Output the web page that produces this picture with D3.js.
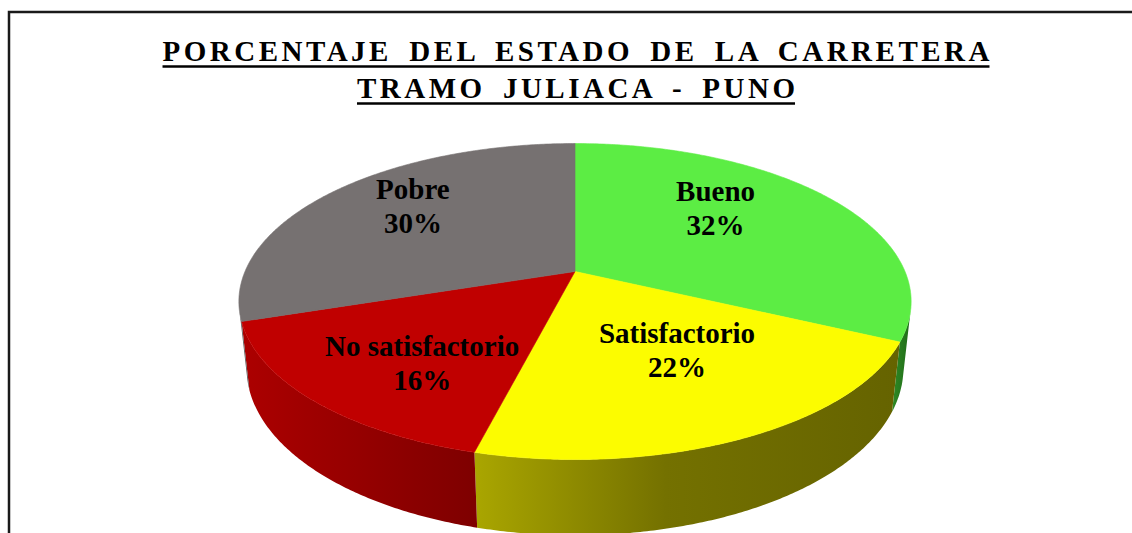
<!DOCTYPE html>
<html>
<head>
<meta charset="utf-8">
<script src="https://cdn.jsdelivr.net/npm/d3@7"></script>
<style>
  html, body { margin: 0; padding: 0; background: #fff; overflow: hidden; }
  svg { display: block; }
</style>
</head>
<body>
<svg id="chart" width="1132" height="533"></svg>
<script>
// ---------- DATA ----------
const titleLines = ["PORCENTAJE DEL ESTADO DE LA CARRETERA", "TRAMO JULIACA - PUNO"];
const categories = ["Bueno", "Satisfactorio", "No satisfactorio", "Pobre"];
const values = [32, 22, 16, 30];
const percentLabels = ["32%", "22%", "16%", "30%"];

// ---------- STYLE / LAYOUT ----------
const topColors = ["#5ced44", "#fcfc00", "#c00000", "#767171"];
const wallStops = [
  [[0, "#2f8a24"], [1, "#1f6a18"]],
  [[0, "#aaa600"], [0.45, "#747100"], [1, "#656300"]],
  [[0, "#ac0000"], [1, "#7e0000"]],
  [[0, "#6a6666"], [1, "#555252"]]
];
const labelNudge = [[-17, -17], [8, -14], [-5, 19], [-12, -15]];

const W = 1132, H = 533;
const cx = 575, cy = 271.5, S = 330;
const sa = 0.4615, ca = Math.sqrt(1 - sa * sa), Dist = 4.668, depth = 0.23;

const svg = d3.select("#chart");

// frame
svg.append("rect")
  .attr("x", 9).attr("y", 12).attr("width", 1300).attr("height", 700)
  .attr("fill", "none").attr("stroke", "#1a1a1a").attr("stroke-width", 2.5);

// projection of a point of the disc (angle clockwise from back, radius fraction, height)
function proj(theta, r, h) {
  const X = r * Math.sin(theta), Yd = -r * Math.cos(theta);
  const vert = Yd * sa - h * ca;
  const z = Dist - Yd * ca - h * sa;
  const k = Dist / z;
  return [cx + S * X * k, cy + S * vert * k];
}
function arcPts(a0, a1, r, h) {
  const n = Math.max(2, Math.ceil(Math.abs(a1 - a0) / (Math.PI / 360)));
  return d3.range(n + 1).map(i => proj(a0 + (a1 - a0) * i / n, r, h));
}
const line = d3.line().curve(d3.curveLinearClosed);

const pie = d3.pie().sort(null).value(d => d)
  .startAngle(0).endAngle(2 * Math.PI);
const arcs = pie(values);

// visible (front-facing) outer wall range
const lim = Math.acos(-1 / (Dist * ca));
const visA = lim, visB = 2 * Math.PI - lim;

const defs = svg.append("defs");
const gWalls = svg.append("g");
const gTops = svg.append("g");

arcs.forEach((a, i) => {
  const a0 = Math.max(a.startAngle, visA), a1 = Math.min(a.endAngle, visB);
  if (a1 > a0) {
    const pts = arcPts(a0, a1, 1, 0).concat(arcPts(a1, a0, 1, -depth));
    const xs = pts.map(p => p[0]);
    const gid = "wall" + i;
    const grad = defs.append("linearGradient").attr("id", gid)
      .attr("gradientUnits", "userSpaceOnUse")
      .attr("x1", d3.min(xs)).attr("x2", d3.max(xs)).attr("y1", 0).attr("y2", 0);
    wallStops[i].forEach(s => grad.append("stop").attr("offset", s[0]).attr("stop-color", s[1]));
    gWalls.append("path").attr("d", line(pts)).attr("fill", `url(#${gid})`);
  }
  const top = [proj(0, 0, 0)].concat(arcPts(a.startAngle, a.endAngle, 1, 0));
  gTops.append("path").attr("d", line(top)).attr("fill", topColors[i])
    .attr("stroke", topColors[i]).attr("stroke-width", 0.6).attr("stroke-linejoin", "round");
});

// labels
const gLab = svg.append("g")
  .attr("font-family", "'Liberation Serif', 'Times New Roman', serif")
  .attr("font-weight", "bold").attr("font-size", 29).attr("fill", "#000")
  .attr("text-anchor", "middle");
arcs.forEach((a, i) => {
  const mid = (a.startAngle + a.endAngle) / 2;
  const p = proj(mid, 0.6, 0);
  const x = p[0] + labelNudge[i][0], y = p[1] + labelNudge[i][1];
  const t = gLab.append("text");
  t.append("tspan").attr("x", x).attr("y", y - 7).text(categories[i]);
  t.append("tspan").attr("x", x).attr("y", y + 27).text(percentLabels[i]);
});

// title
const ls = 3.5, ws = 6.5;
const titleBase = [61, 98], ulY = [66.5, 103.5];
titleLines.forEach((txt, i) => {
  const tx = 576 + ls / 2;
  const t = svg.append("text")
    .attr("x", tx).attr("y", titleBase[i])
    .attr("text-anchor", "middle")
    .attr("font-family", "'Liberation Serif', 'Times New Roman', serif")
    .attr("font-weight", "bold").attr("font-size", 29)
    .attr("letter-spacing", ls)
    .attr("word-spacing", ws)
    .attr("fill", "#000")
    .text(txt);
  const len = t.node().getComputedTextLength();
  svg.append("line")
    .attr("x1", tx - len / 2).attr("x2", tx + len / 2 - ls)
    .attr("y1", ulY[i]).attr("y2", ulY[i])
    .attr("stroke", "#000").attr("stroke-width", 2.5);
});
</script>
</body>
</html>
